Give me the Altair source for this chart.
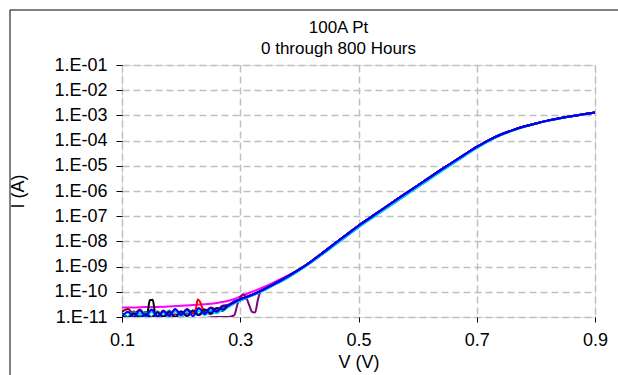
import altair as alt
import pandas as pd

FONT = "Liberation Sans"

# ---- shared upper (exponential) part of the I-V curves ----
v_main = [0.30, 0.32, 0.34, 0.36, 0.38, 0.40, 0.42, 0.44, 0.46, 0.48, 0.50,
          0.52, 0.54, 0.56, 0.58, 0.60, 0.62, 0.64, 0.66, 0.68, 0.70,
          0.72, 0.74, 0.76, 0.78, 0.80, 0.82, 0.84, 0.86, 0.88, 0.90]
i_main = [5.0e-11, 7.5e-11, 1.25e-10, 2.2e-10, 4.0e-10, 7.7e-10, 1.6e-9, 3.6e-9, 8.2e-9, 1.85e-8, 4.2e-8,
          8.8e-8, 1.85e-7, 3.85e-7, 8.0e-7, 1.65e-6, 3.4e-6, 7.0e-6, 1.42e-5, 2.85e-5, 5.6e-5,
          1.03e-4, 1.7e-4, 2.55e-4, 3.6e-4, 4.8e-4, 6.2e-4, 7.7e-4, 9.3e-4, 1.1e-3, 1.3e-3]
i_low = [4.5e-11, 7.0e-11, 1.15e-10, 2.0e-10, 3.6e-10, 7.0e-10, 1.45e-9, 3.2e-9, 7.2e-9, 1.6e-8, 3.6e-8,
         7.6e-8, 1.6e-7, 3.3e-7, 6.9e-7, 1.42e-6, 2.95e-6, 6.1e-6, 1.25e-5, 2.55e-5, 5.1e-5,
         9.6e-5, 1.6e-4, 2.45e-4, 3.5e-4, 4.7e-4, 6.1e-4, 7.6e-4, 9.2e-4, 1.09e-3, 1.29e-3]

# ---- low-voltage noise floor, per measurement ----
v_noise = [0.10, 0.11, 0.12, 0.13, 0.14, 0.15, 0.16, 0.17, 0.18, 0.19,
           0.20, 0.21, 0.22, 0.23, 0.24, 0.25, 0.26, 0.27, 0.28, 0.29]
i_darkred = [1.6e-11, 2.1e-11, 1.3e-11, 2.0e-11, 1.2e-11, 1.9e-11, 1.1e-11, 1.8e-11, 1.2e-11, 2.0e-11,
             1.3e-11, 2.1e-11, 1.4e-11, 2.2e-11, 1.6e-11, 2.4e-11, 1.9e-11, 2.8e-11, 3.1e-11, 4.0e-11]
i_teal = [1.3e-11, 1.0e-11, 1.7e-11, 1.1e-11, 1.6e-11, 1.0e-11, 1.7e-11, 1.1e-11, 1.8e-11, 1.0e-11,
          1.6e-11, 1.1e-11, 1.8e-11, 1.2e-11, 1.9e-11, 1.3e-11, 2.2e-11, 1.7e-11, 2.7e-11, 3.6e-11]
i_cyan = [0.9e-11, 1.5e-11, 0.9e-11, 1.4e-11, 1.0e-11, 1.6e-11, 0.9e-11, 1.5e-11, 1.0e-11, 1.7e-11,
          1.0e-11, 1.6e-11, 1.1e-11, 1.7e-11, 1.2e-11, 1.8e-11, 1.4e-11, 2.1e-11, 2.5e-11, 3.4e-11]
i_navy = [1.1e-11, 0.9e-11, 1.4e-11, 0.9e-11, 1.3e-11, 0.9e-11, 1.5e-11, 1.0e-11, 1.6e-11, 1.0e-11,
          1.7e-11, 1.1e-11, 1.8e-11, 1.2e-11, 2.0e-11, 1.4e-11, 2.3e-11, 2.0e-11, 2.8e-11, 3.8e-11]
i_blue = [1.0e-11, 1.6e-11, 1.0e-11, 1.8e-11, 1.1e-11, 2.0e-11, 1.0e-11, 1.7e-11, 1.1e-11, 2.1e-11,
          1.2e-11, 2.0e-11, 1.1e-11, 2.2e-11, 1.3e-11, 2.3e-11, 1.6e-11, 2.6e-11, 2.9e-11, 4.2e-11]

v_magenta = [0.10, 0.12, 0.14, 0.16, 0.18, 0.20, 0.22, 0.24, 0.26, 0.28, 0.29,
             0.30, 0.32, 0.34, 0.36, 0.38, 0.40]
i_magenta = [2.4e-11, 2.4e-11, 2.5e-11, 2.5e-11, 2.6e-11, 2.8e-11, 3.0e-11, 3.2e-11, 3.6e-11, 4.4e-11, 5.2e-11,
             6.5e-11, 1.0e-10, 1.55e-10, 2.6e-10, 4.4e-10, 7.7e-10]

v_black = [0.10, 0.11, 0.12, 0.13, 0.14, 0.143, 0.147, 0.152, 0.156, 0.16, 0.17, 0.18,
           0.19, 0.20, 0.21, 0.22, 0.23, 0.24, 0.25, 0.26, 0.27, 0.28, 0.29]
i_black = [1.4e-11, 1.0e-11, 1.3e-11, 1.0e-11, 1.2e-11, 1.4e-11, 4.6e-11, 4.8e-11, 1.4e-11, 1.1e-11, 1.0e-11, 1.3e-11,
           1.0e-11, 1.4e-11, 1.1e-11, 1.5e-11, 1.2e-11, 1.6e-11, 1.3e-11, 1.9e-11, 2.0e-11, 2.8e-11, 3.8e-11]

v_red = [0.18, 0.19, 0.20, 0.21, 0.22, 0.225, 0.228, 0.232, 0.236, 0.24, 0.25, 0.26, 0.27, 0.28, 0.29]
i_red = [1.0e-11, 1.3e-11, 1.1e-11, 1.4e-11, 1.5e-11, 2.1e-11, 5.0e-11, 4.0e-11, 2.3e-11, 1.9e-11, 1.6e-11, 2.1e-11,
         2.5e-11, 3.0e-11, 4.0e-11]

v_purple = [0.24, 0.26, 0.28, 0.29, 0.295, 0.30, 0.305, 0.31, 0.315, 0.32, 0.325, 0.33, 0.335, 0.34]
i_purple = [0.9e-11, 1.0e-11, 1.0e-11, 1.2e-11, 3.0e-11, 6.0e-11, 8.0e-11, 6.0e-11, 3.0e-11, 1.6e-11, 1.5e-11,
            5.0e-11, 1.1e-10, 1.25e-10]

series = [
    ("magenta", "#FF00FF", v_magenta + v_main[6:], i_magenta + i_main[6:]),
    ("black", "#000000", v_black + v_main, i_black + i_main),
    ("darkred", "#800000", v_noise + v_main, i_darkred + i_main),
    ("red", "#FF0000", v_red + v_main, i_red + i_main),
    ("purple", "#800080", v_purple + v_main[6:], i_purple + i_main[6:]),
    ("teal", "#008080", v_noise + v_main, i_teal + i_low),
    ("cyan", "#00CCFF", v_noise + v_main, i_cyan + i_low),
    ("navy", "#000080", v_noise + v_main, i_navy + i_main),
    ("blue", "#0000FF", v_noise + v_main, i_blue + i_main),
]

x_ticks = [0.1, 0.3, 0.5, 0.7, 0.9]
y_ticks = [1e-1, 1e-2, 1e-3, 1e-4, 1e-5, 1e-6, 1e-7, 1e-8, 1e-9, 1e-10, 1e-11]

xscale = alt.Scale(domain=[0.1, 0.9], nice=False, zero=False)
yscale = alt.Scale(type="log", domain=[1e-11, 1e-1], nice=False)

common_axis = dict(
    grid=True, gridDash=[7, 4], gridColor="#c0c0c0", gridWidth=1.5,
    domain=False, ticks=True, tickColor="black", tickWidth=1,
    labelFont=FONT, labelFontSize=18, labelColor="black",
    titleFont=FONT, titleFontSize=18, titleFontWeight="normal", titleColor="black",
    labelOverlap=False,
)
xaxis = alt.Axis(values=x_ticks, format=".1f", title="V (V)", tickSize=5, labelPadding=9,
                 titlePadding=4, labelFlush=False, **common_axis)
yaxis = alt.Axis(
    values=y_ticks, title="I (A)", tickSize=6, labelPadding=9, titlePadding=26,
    labelExpr="'1.E-' + (round(-log(datum.value)/LN10) < 10 ? '0' : '') + round(-log(datum.value)/LN10)",
    **common_axis,
)

layers = []
for name, color, vs, is_ in series:
    df = pd.DataFrame({"V": vs, "I": is_})
    layers.append(
        alt.Chart(df).mark_line(color=color, strokeWidth=2, clip=True, interpolate="monotone").encode(
            x=alt.X("V:Q", scale=xscale, axis=xaxis),
            y=alt.Y("I:Q", scale=yscale, axis=yaxis),
        )
    )

frame_df = pd.DataFrame({"k": [0]})
left_border = alt.Chart(frame_df).mark_rule(color="black", strokeWidth=1, clip=False).encode(
    x=alt.value(-112), y=alt.value(-55), y2=alt.value(320))
top_border = alt.Chart(frame_df).mark_rule(color="black", strokeWidth=1, clip=False).encode(
    x=alt.value(-112), x2=alt.value(500), y=alt.value(-55))

chart = alt.layer(*layers, left_border, top_border).properties(
    width=473, height=252,
    title=alt.TitleParams(text=["100A Pt", "0 through 800 Hours"], font=FONT, fontSize=17,
                          fontWeight="normal", color="black", anchor="middle", offset=-48,
                          dx=-20, lineHeight=21),
    autosize=alt.AutoSizeParams(type="none"),
    padding={"left": 122, "top": 65, "right": 23, "bottom": 58},
).configure_view(stroke="black", strokeWidth=2).configure(background="white")

chart.save("out.html", embed_options={"renderer": "svg", "actions": False})
